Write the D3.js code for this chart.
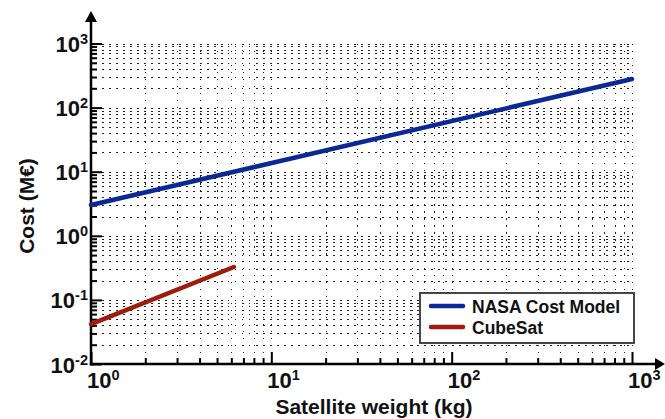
<!DOCTYPE html>
<html>
<head>
<meta charset="utf-8">
<script src="https://cdn.jsdelivr.net/npm/d3@7"></script>
<style>
  body { margin: 0; background: #fff; }
  text { font-family: "Liberation Sans", Arial, sans-serif; font-weight: bold; fill: #111; }
</style>
</head>
<body>
<svg id="chart" width="665" height="419"></svg>
<script>
// Values (mass in kg, cost in M€)
var nasaMass = [1, 1000];
var nasaCost = [3.02, 279];
var cubeMass = [1, 6.2];
var cubeCost = [0.042, 0.326];
var seriesNames = ['NASA Cost Model', 'CubeSat'];
var seriesColors = ['#0c2894', '#9e1b0e'];
var xDecades = [0, 1, 2, 3];
var yDecades = [-2, -1, 0, 1, 2, 3];

var svg = d3.select('#chart');

var x = d3.scaleLog().domain([1, 1000]).range([91, 632]);
var y = d3.scaleLog().domain([0.01, 1000]).range([364, 43.5]);

// Dotted grid at every 1..9 multiple
var grid = svg.append('g')
  .attr('stroke', '#222')
  .attr('stroke-width', 1)
  .attr('stroke-dasharray', '1.5,5.5')
  .attr('shape-rendering', 'crispEdges');

grid.selectAll('.hgrid').data(y.ticks())
  .enter().append('line')
  .attr('x1', x.range()[0] + 4)
  .attr('x2', x.range()[1])
  .attr('y1', function(d) { return Math.round(y(d)) + 0.5; })
  .attr('y2', function(d) { return Math.round(y(d)) + 0.5; });

grid.selectAll('.vgrid').data(x.ticks())
  .enter().append('line')
  .attr('x1', function(d) { return Math.round(x(d)) + 0.5; })
  .attr('x2', function(d) { return Math.round(x(d)) + 0.5; })
  .attr('y1', y.range()[1])
  .attr('y2', y.range()[0] - 4);

function isMajor(v) {
  var l = Math.log10(v);
  return Math.abs(l - Math.round(l)) < 1e-9;
}

// Ticks, inward
function drawTicks(axis, ticks, size, tr) {
  var g = svg.append('g')
    .attr('transform', tr)
    .call(axis.tickValues(ticks).tickSize(size).tickFormat(''));
  g.select('.domain').remove();
  g.selectAll('.tick line').attr('stroke', '#000').attr('stroke-width', 2);
}

var yTicks = y.ticks();
var xTicks = x.ticks();
drawTicks(d3.axisRight(y), yTicks.filter(function(d) { return !isMajor(d); }), 6, 'translate(91,0)');
drawTicks(d3.axisRight(y), yTicks.filter(isMajor), 11, 'translate(91,0)');
drawTicks(d3.axisTop(x), xTicks.filter(function(d) { return !isMajor(d); }), 6, 'translate(0,364)');
drawTicks(d3.axisTop(x), xTicks.filter(isMajor), 12, 'translate(0,364)');

// Axis lines with arrow heads
svg.append('line')
  .attr('x1', 91).attr('x2', 91)
  .attr('y1', 365.5).attr('y2', 20)
  .attr('stroke', '#000').attr('stroke-width', 2.5);
svg.append('path')
  .attr('d', 'M85,22 L91,11 L97,22 Z')
  .attr('fill', '#000');
svg.append('line')
  .attr('x1', 89.8).attr('x2', 657)
  .attr('y1', 364).attr('y2', 364)
  .attr('stroke', '#000').attr('stroke-width', 2.5);
svg.append('path')
  .attr('d', 'M655,358 L665,364 L655,370 Z')
  .attr('fill', '#000');

// Tick labels 10^n
function powLabel(sel, n) {
  sel.append('tspan').text('10');
  sel.append('tspan').attr('dy', -8).attr('font-size', 14.5).text(n);
}

svg.selectAll('.xlab').data(xDecades)
  .enter().append('text')
  .attr('x', function(d) { return x(Math.pow(10, d)) - 4; })
  .attr('y', 388)
  .attr('font-size', 22)
  .each(function(d) { powLabel(d3.select(this), d); });

svg.selectAll('.ylab').data(yDecades)
  .enter().append('text')
  .attr('x', 88)
  .attr('y', function(d) { return y(Math.pow(10, d)) + 8.5; })
  .attr('font-size', 22)
  .attr('text-anchor', 'end')
  .each(function(d) { powLabel(d3.select(this), d); });

// Axis titles
svg.append('text')
  .attr('x', 374).attr('y', 414)
  .attr('text-anchor', 'middle')
  .attr('font-size', 21)
  .text('Satellite weight (kg)');

svg.append('text')
  .attr('transform', 'translate(34,206) rotate(-90)')
  .attr('text-anchor', 'middle')
  .attr('font-size', 21)
  .text('Cost (M€)');

// Series lines
var line = d3.line()
  .x(function(d) { return x(d[0]); })
  .y(function(d) { return y(d[1]); });

var series = [d3.zip(nasaMass, nasaCost), d3.zip(cubeMass, cubeCost)];

svg.selectAll('.series').data(series)
  .enter().append('path')
  .attr('d', line)
  .attr('fill', 'none')
  .attr('stroke', function(d, i) { return seriesColors[i]; })
  .attr('stroke-width', 4.5)
  .attr('stroke-linecap', 'round');

// Legend
var legend = svg.append('g').attr('transform', 'translate(420,293)');
legend.append('rect')
  .attr('width', 214).attr('height', 50)
  .attr('fill', '#fff')
  .attr('stroke', '#333')
  .attr('stroke-width', 1.8);

var items = legend.selectAll('.item').data(seriesNames)
  .enter().append('g')
  .attr('transform', function(d, i) { return 'translate(0,' + (13 + i * 21) + ')'; });
items.append('line')
  .attr('x1', 11).attr('x2', 43)
  .attr('stroke', function(d, i) { return seriesColors[i]; })
  .attr('stroke-width', 4.5)
  .attr('stroke-linecap', 'round');
items.append('text')
  .attr('x', 52).attr('y', 6.5)
  .attr('font-size', 17.5)
  .text(function(d) { return d; });
</script>
</body>
</html>
